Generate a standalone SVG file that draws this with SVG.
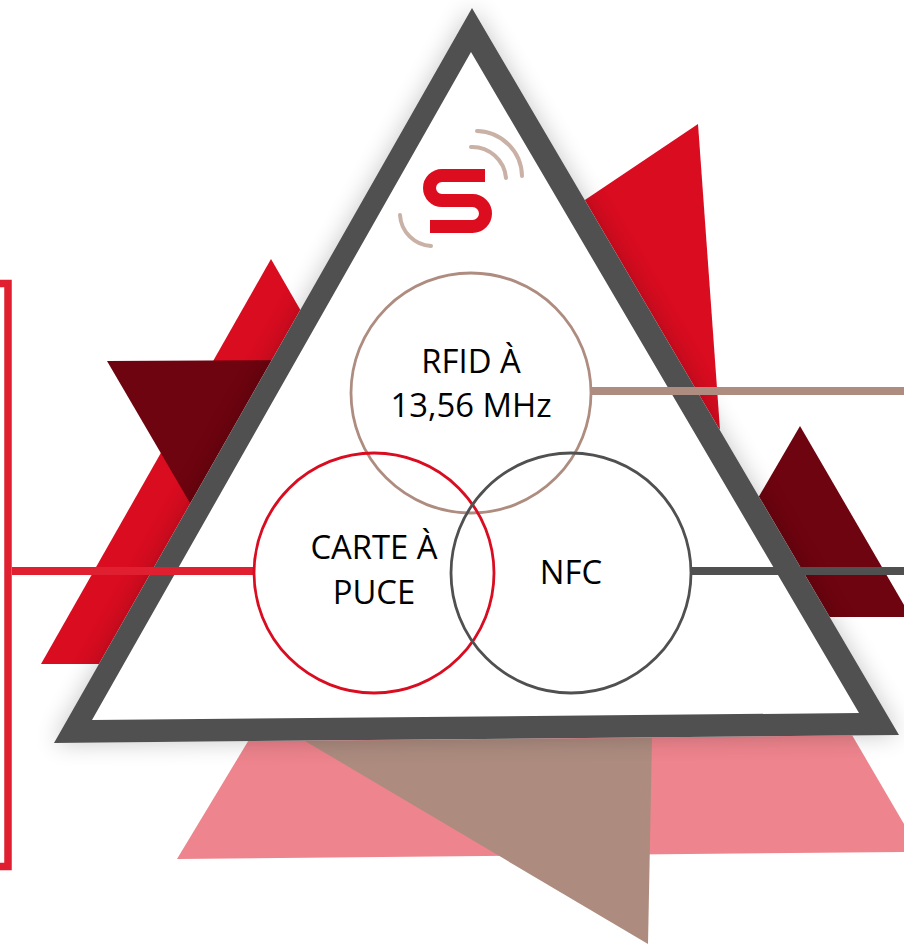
<svg xmlns="http://www.w3.org/2000/svg" width="904" height="944" viewBox="0 0 904 944">
<style>
.t{font-family:"Open Sans","Noto Sans",sans-serif;font-size:32.800px;fill:#000;text-anchor:middle}
.c{fill:none;stroke-width:2.800}
.l{fill:none;stroke-width:8}
.a{fill:none;stroke:#c9b1a5;stroke-width:4;stroke-linecap:round}
</style>
<defs>
<filter id="sh" x="-10%" y="-10%" width="120%" height="120%"><feGaussianBlur stdDeviation="12"/></filter>
</defs>
<rect width="904" height="944" fill="#fff"/>
<g id="background">
<polygon points="250,738 177,859 904,852 904,824 852,735" fill="#ee848d"/>
<polygon points="305,741 652,738 648,944" fill="#ad8c7f"/>
<polygon points="271,259 41,664 200,664 305,318" fill="#d90c20"/>
<polygon points="107,361 290,360 190,503" fill="#6e040f"/>
<polygon points="698,124 570,210 720,430" fill="#d90c20"/>
<polygon points="800,426 730,546 829,617 904,617 904,605" fill="#6e040f"/>
</g>
<polygon points="472,8 54,743 899,735" fill="#000" opacity=".22" filter="url(#sh)"/>
<g id="triangle">
<polygon fill="#fff" points="472,8 54,743 899,735"/>
<polygon fill-rule="evenodd" fill="#505050" points="472,8 54,743 899,735 472,8 471,52 859,713 92,720 471,52"/>
</g>
<g id="logo">
<path d="M485,175.500H442A12.500,12.500 0 0 0 442,200.500H472.500A13,13 0 0 1 472.500,226.500H430" fill="none" stroke="#dd0d20" stroke-width="13"/>
<path class="a" d="M477,131A46,46 0 0 1 522,176"/>
<path class="a" d="M471,147A34,34 0 0 1 506,178"/>
<path class="a" d="M400,215A33,33 0 0 0 431,246"/>
</g>
<g id="connectors">
<path d="M0,283.500H8V866.500H0" fill="none" stroke="#e01f30" stroke-width="7.500"/>
<path class="l" stroke="#e01f30" d="M12,571H254"/>
<path class="l" stroke="#ae8d80" d="M592,391H904"/>
<path class="l" stroke="#505050" d="M692,571H904"/>
</g>
<g id="node-rfid">
<circle class="c" cx="471" cy="393" r="120" stroke="#ae8d80"/>
<text class="t" x="471" y="373">RFID À</text>
<text class="t" x="471" y="417">13,56 MHz</text>
</g>
<g id="node-carte">
<circle class="c" cx="374" cy="573" r="120" stroke="#d90c20"/>
<text class="t" x="374" y="559">CARTE À</text>
<text class="t" x="374" y="604">PUCE</text>
</g>
<g id="node-nfc">
<circle class="c" cx="571" cy="573" r="120" stroke="#505050"/>
<text class="t" x="571" y="584">NFC</text>
</g>
</svg>
